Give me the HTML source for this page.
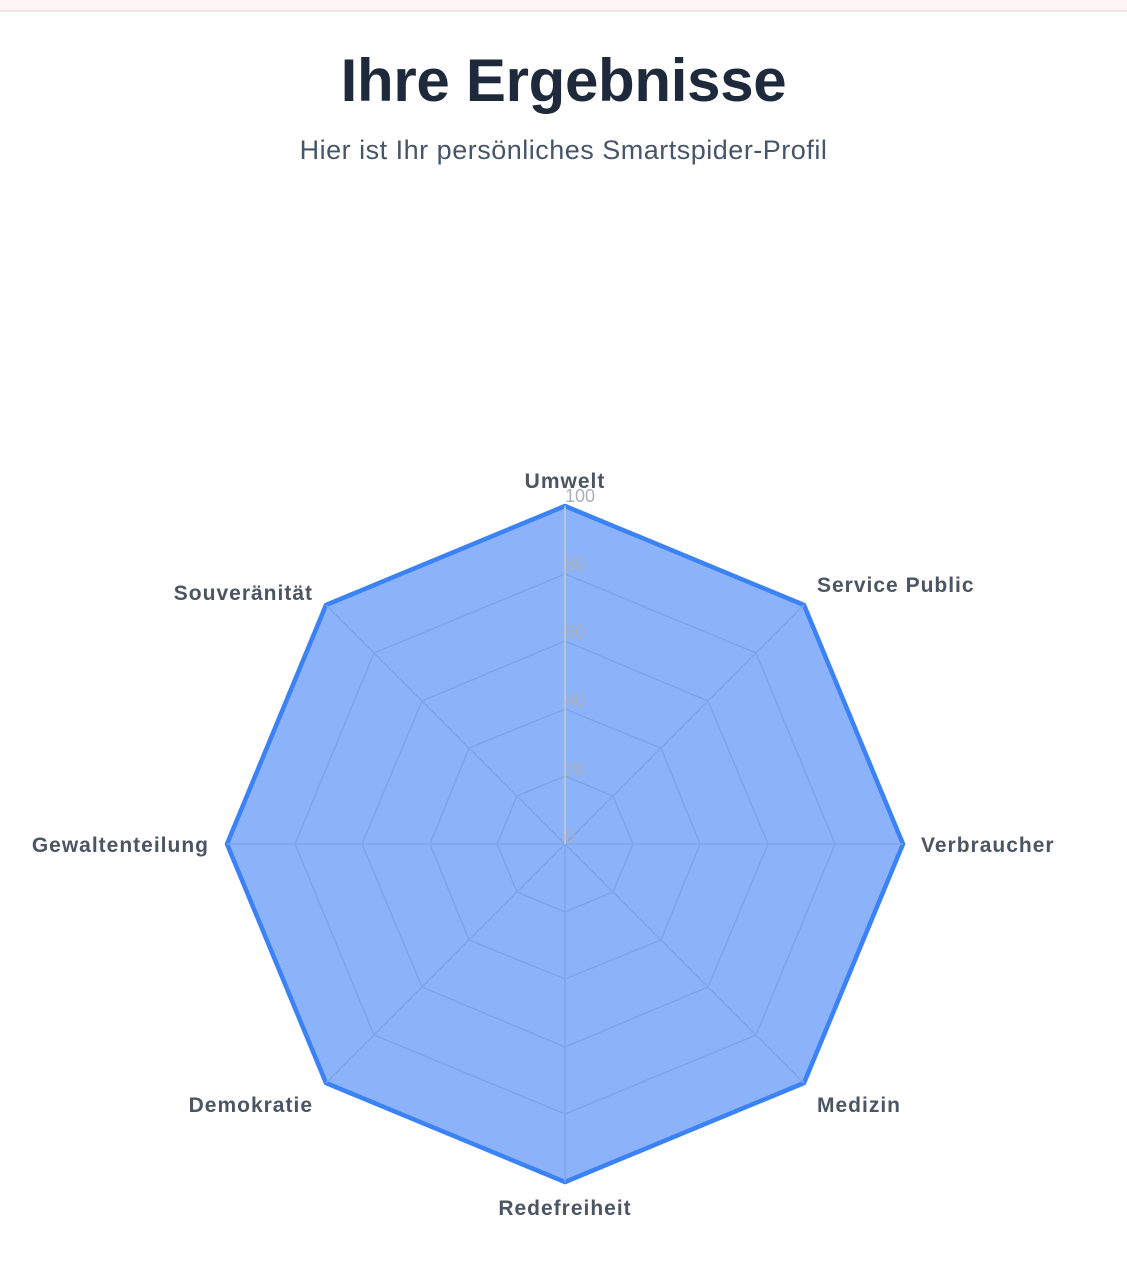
<!DOCTYPE html>
<html><head><meta charset="utf-8"><style>
html,body{margin:0;padding:0;background:#fff;width:1127px;height:1280px;overflow:hidden;font-family:"Liberation Sans",sans-serif}
.top{position:absolute;left:0;top:0;width:1127px;height:10px;background:#fef6f6;border-bottom:2px solid #f3e3e6}
h1{position:absolute;top:46px;left:0;width:1127px;text-align:center;margin:0;font-size:60px;font-weight:bold;color:#1e293b;letter-spacing:-0.3px}
.sub{position:absolute;top:135px;left:0;width:1127px;text-align:center;font-size:27px;letter-spacing:0.5px;color:#475569}
svg{position:absolute;left:0;top:0}
</style></head><body>
<div class="top"></div>
<h1>Ihre Ergebnisse</h1>
<div class="sub">Hier ist Ihr persönliches Smartspider-Profil</div>
<svg width="1127" height="1280" font-family="Liberation Sans, sans-serif">
<polygon points="565,506 804,605 903,844 804,1083 565,1182 326,1083 227,844 326,605" fill="#8cb3fa" stroke="#3b82f6" stroke-width="4.5" stroke-linejoin="round"/>
<g fill="none" stroke="#7ea4ec" stroke-width="1.5">
<polygon points="565,574 756,653 835,844 756,1035 565,1114 374,1035 295,844 374,653"/>
<polygon points="565,641 708,701 768,844 708,987 565,1047 422,987 362,844 422,701"/>
<polygon points="565,709 661,748 700,844 661,940 565,979 469,940 430,844 469,748"/>
<polygon points="565,776 613,796 633,844 613,892 565,912 517,892 497,844 517,796"/>
<line x1="565" y1="844" x2="804" y2="605"/><line x1="565" y1="844" x2="903" y2="844"/>
<line x1="565" y1="844" x2="804" y2="1083"/><line x1="565" y1="844" x2="565" y2="1182"/>
<line x1="565" y1="844" x2="326" y2="1083"/><line x1="565" y1="844" x2="227" y2="844"/>
<line x1="565" y1="844" x2="326" y2="605"/>
</g>
<line x1="565" y1="506" x2="565" y2="844" stroke="#c4c9d2" stroke-width="1.5"/>
<g fill="#aab0bb" font-size="18">
<text x="565" y="502">100</text><text x="565" y="570">80</text><text x="565" y="638">60</text>
<text x="565" y="707">40</text><text x="565" y="776">20</text><text x="565" y="843">0</text>
</g>
<g fill="#4b5563" font-size="21" font-weight="bold" letter-spacing="1">
<text x="565" y="488" text-anchor="middle">Umwelt</text>
<text x="817" y="592">Service Public</text>
<text x="921" y="852">Verbraucher</text>
<text x="817" y="1112">Medizin</text>
<text x="565" y="1215" text-anchor="middle">Redefreiheit</text>
<text x="313" y="1112" text-anchor="end">Demokratie</text>
<text x="209" y="852" text-anchor="end">Gewaltenteilung</text>
<text x="313" y="600" text-anchor="end">Souveränität</text>
</g>
</svg>
</body></html>
